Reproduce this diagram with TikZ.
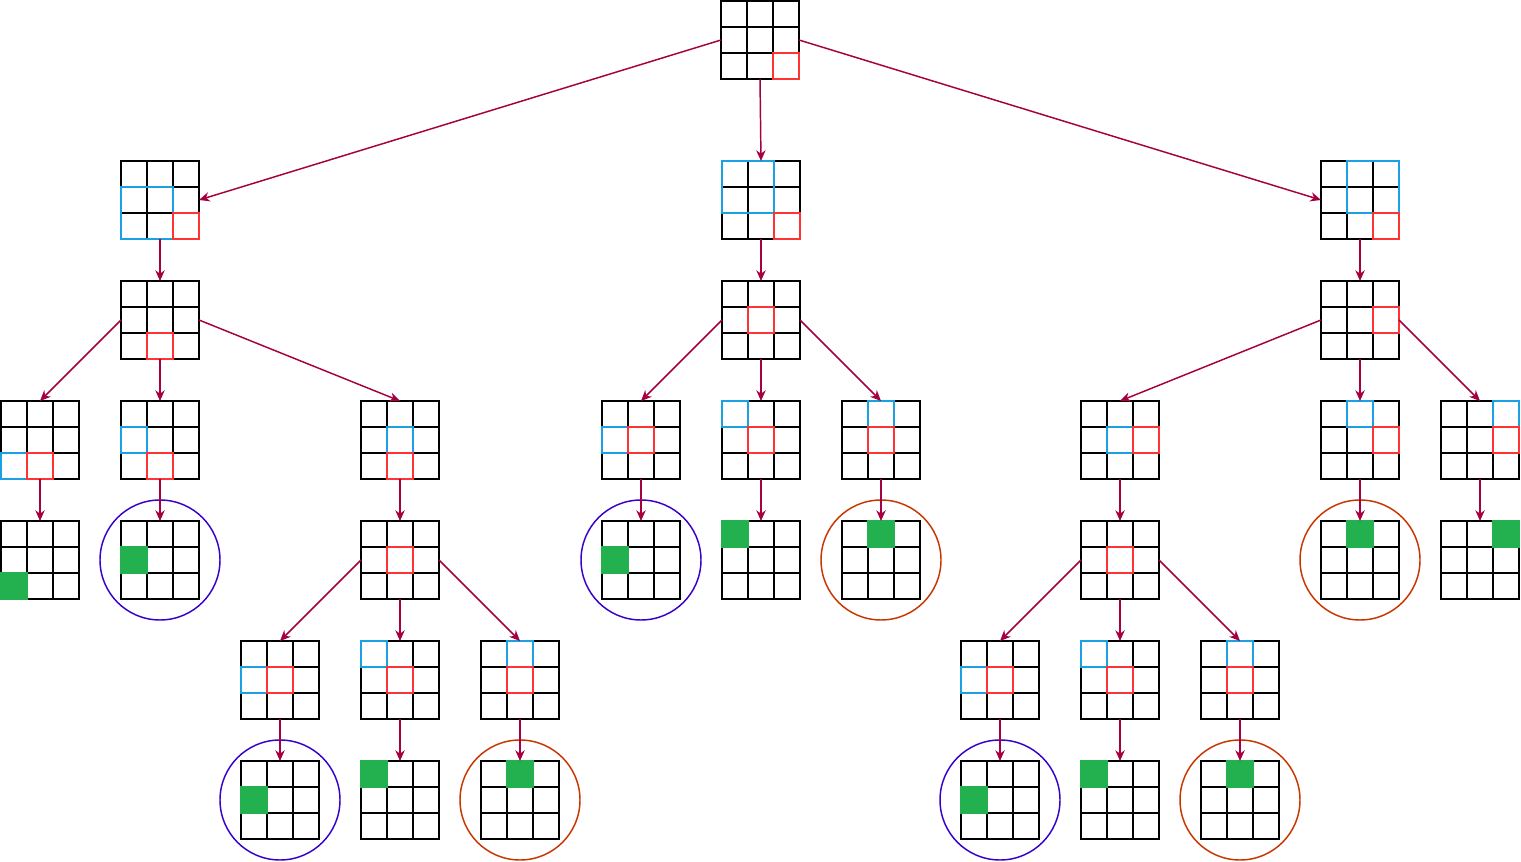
\documentclass[tikz,border=0pt]{standalone}
\usetikzlibrary{calc,arrows.meta}
\definecolor{cred}{HTML}{FF3333}
\definecolor{cblue}{HTML}{1BA1E2}
\definecolor{cgreen}{HTML}{23B04E}
\definecolor{carrow}{HTML}{A50040}
\definecolor{cloop}{HTML}{3700CC}
\definecolor{cend}{HTML}{C73500}
\tikzset{
  board/.style={rectangle, draw, line width=1.5pt, minimum size=58.5pt, inner sep=0pt, outer sep=0pt},
  seen/.style={draw=cblue, line width=1.5pt},
  cur/.style={draw=cred, line width=1.5pt},
  goal/.style={fill=cgreen, draw=cgreen, line width=1.5pt},
  ring/.style={circle, draw, line width=1.1pt, minimum size=90pt, inner sep=0pt},
  link/.style={draw=carrow, line width=1.1pt, -{Stealth[length=8pt,width=7pt,inset=2.5pt]}}
}
% 3x3 board, top left corner at (#2,#3)
\newcommand{\board}[3]{%
  \node[board] (#1) at (#2+39,#3+39) {};
  \foreach \k in {1,2} {
    \draw[line width=1.5pt] ($(#1.north west)+(\k*26,0)$) -- ($(#1.south west)+(\k*26,0)$);
    \draw[line width=1.5pt] ($(#1.north west)+(0,\k*26)$) -- ($(#1.north east)+(0,\k*26)$);
  }}
% cells: board, column, row, width, height, style
\newcommand{\hilite}[6]{\draw[#6] ($(#1.north west)+(#2*26,#3*26)$) rectangle ++(#4*26,#5*26);}
\begin{document}
\begin{tikzpicture}[x=0.75pt,y=-0.75pt]
\useasboundingbox (0,0) rectangle (1521,862);

% level 0 and 1
\board{root}{721}{1}
\hilite{root}{2}{2}{1}{1}{cur}
\board{n1}{121}{161}
\hilite{n1}{0}{1}{2}{2}{seen}
\hilite{n1}{2}{2}{1}{1}{cur}
\board{n2}{722}{161}
\hilite{n2}{0}{0}{2}{2}{seen}
\hilite{n2}{2}{2}{1}{1}{cur}
\board{n3}{1321}{161}
\hilite{n3}{1}{0}{2}{2}{seen}
\hilite{n3}{2}{2}{1}{1}{cur}

% level 2
\board{n1a}{121}{281}
\hilite{n1a}{1}{2}{1}{1}{cur}
\board{n2a}{722}{281}
\hilite{n2a}{1}{1}{1}{1}{cur}
\board{n3a}{1321}{281}
\hilite{n3a}{2}{1}{1}{1}{cur}

% level 3
\board{n1a1}{1}{401}
\hilite{n1a1}{0}{2}{1}{1}{seen}
\hilite{n1a1}{1}{2}{1}{1}{cur}
\board{n1a2}{121}{401}
\hilite{n1a2}{0}{1}{1}{1}{seen}
\hilite{n1a2}{1}{2}{1}{1}{cur}
\board{n1a3}{361}{401}
\hilite{n1a3}{1}{1}{1}{1}{seen}
\hilite{n1a3}{1}{2}{1}{1}{cur}
\board{n2a1}{602}{401}
\hilite{n2a1}{0}{1}{1}{1}{seen}
\hilite{n2a1}{1}{1}{1}{1}{cur}
\board{n2a2}{722}{401}
\hilite{n2a2}{0}{0}{1}{1}{seen}
\hilite{n2a2}{1}{1}{1}{1}{cur}
\board{n2a3}{842}{401}
\hilite{n2a3}{1}{0}{1}{1}{seen}
\hilite{n2a3}{1}{1}{1}{1}{cur}
\board{n3a1}{1081}{401}
\hilite{n3a1}{1}{1}{1}{1}{seen}
\hilite{n3a1}{2}{1}{1}{1}{cur}
\board{n3a2}{1321}{401}
\hilite{n3a2}{1}{0}{1}{1}{seen}
\hilite{n3a2}{2}{1}{1}{1}{cur}
\board{n3a3}{1441}{401}
\hilite{n3a3}{2}{0}{1}{1}{seen}
\hilite{n3a3}{2}{1}{1}{1}{cur}

% level 4
\board{n1a1g}{1}{521}
\hilite{n1a1g}{0}{2}{1}{1}{goal}
\board{n1a2g}{121}{521}
\hilite{n1a2g}{0}{1}{1}{1}{goal}
\board{n1c}{361}{521}
\hilite{n1c}{1}{1}{1}{1}{cur}
\board{n2a1g}{602}{521}
\hilite{n2a1g}{0}{1}{1}{1}{goal}
\board{n2a2g}{722}{521}
\hilite{n2a2g}{0}{0}{1}{1}{goal}
\board{n2a3g}{842}{521}
\hilite{n2a3g}{1}{0}{1}{1}{goal}
\board{n3c}{1081}{521}
\hilite{n3c}{1}{1}{1}{1}{cur}
\board{n3a2g}{1321}{521}
\hilite{n3a2g}{1}{0}{1}{1}{goal}
\board{n3a3g}{1441}{521}
\hilite{n3a3g}{2}{0}{1}{1}{goal}

% level 5
\foreach \b/\x in {n1c/241, n3c/961} {
  \board{\b1}{\x}{641}
  \hilite{\b1}{0}{1}{1}{1}{seen}
  \hilite{\b1}{1}{1}{1}{1}{cur}
  \board{\b2}{\x+120}{641}
  \hilite{\b2}{0}{0}{1}{1}{seen}
  \hilite{\b2}{1}{1}{1}{1}{cur}
  \board{\b3}{\x+240}{641}
  \hilite{\b3}{1}{0}{1}{1}{seen}
  \hilite{\b3}{1}{1}{1}{1}{cur}
}

% level 6
\foreach \b/\x in {n1c/241, n3c/961} {
  \board{\b1g}{\x}{761}
  \hilite{\b1g}{0}{1}{1}{1}{goal}
  \board{\b2g}{\x+120}{761}
  \hilite{\b2g}{0}{0}{1}{1}{goal}
  \board{\b3g}{\x+240}{761}
  \hilite{\b3g}{1}{0}{1}{1}{goal}
}

% circles
\foreach \b in {n1a2g, n2a1g, n1c1g, n3c1g}
  \node[ring, draw=cloop] (r\b) at (\b) {};
\foreach \b in {n2a3g, n3a2g, n1c3g, n3c3g}
  \node[ring, draw=cend] (r\b) at (\b) {};

% arrows
\foreach \a/\b in {root.west/n1.east, root.south/n2.north, root.east/n3.west,
    n1.south/n1a.north, n2.south/n2a.north, n3.south/n3a.north,
    n1a.west/n1a1.north, n1a.south/n1a2.north, n1a.east/n1a3.north,
    n2a.west/n2a1.north, n2a.south/n2a2.north, n2a.east/n2a3.north,
    n3a.west/n3a1.north, n3a.south/n3a2.north, n3a.east/n3a3.north,
    n1a1.south/n1a1g.north, n1a2.south/n1a2g.north, n1a3.south/n1c.north,
    n2a1.south/n2a1g.north, n2a2.south/n2a2g.north, n2a3.south/n2a3g.north,
    n3a1.south/n3c.north, n3a2.south/n3a2g.north, n3a3.south/n3a3g.north,
    n1c.west/n1c1.north, n1c.south/n1c2.north, n1c.east/n1c3.north,
    n3c.west/n3c1.north, n3c.south/n3c2.north, n3c.east/n3c3.north,
    n1c1.south/n1c1g.north, n1c2.south/n1c2g.north, n1c3.south/n1c3g.north,
    n3c1.south/n3c1g.north, n3c2.south/n3c2g.north, n3c3.south/n3c3g.north}
  \draw[link] (\a) -- (\b);
\end{tikzpicture}
\end{document}
